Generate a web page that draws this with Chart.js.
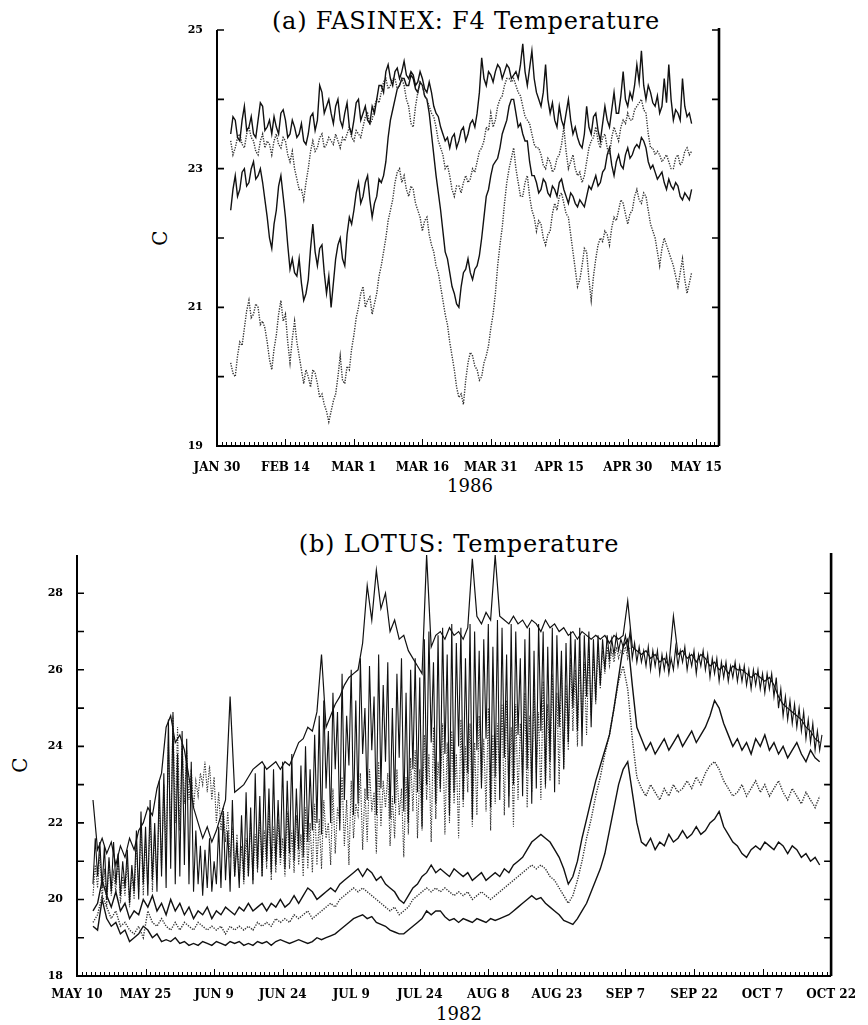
<!DOCTYPE html>
<html>
<head>
<meta charset="utf-8">
<title>FASINEX / LOTUS temperature</title>
<script src="https://cdn.jsdelivr.net/npm/chart.js@4.4.0/dist/chart.umd.min.js"></script>
<style>
  html, body { margin: 0; padding: 0; background: #fff; }
  body { width: 868px; height: 1025px; position: relative; overflow: hidden; font-family: "DejaVu Serif", serif; }
  canvas { position: absolute; left: 0; }
  .lbl { position: absolute; color: #000; white-space: nowrap; transform: translate(-50%, -50%); }
  .title { font-size: 24px; letter-spacing: 0.8px; }
  .year { font-size: 18px; }
  .axc { font-size: 20px; transform: translate(-50%, -50%) rotate(-90deg); }
</style>
</head>
<body>
<div class="lbl title" style="left:466px;top:21px">(a) FASINEX: F4 Temperature</div>
<div class="lbl axc" style="left:160px;top:238px">C</div>
<div class="lbl year" style="left:470px;top:485px">1986</div>
<div class="lbl title" style="left:459px;top:544px">(b) LOTUS: Temperature</div>
<div class="lbl axc" style="left:20px;top:765px">C</div>
<div class="lbl year" style="left:459px;top:1013px">1982</div>

<canvas id="chartA" width="868" height="500" style="top:0"></canvas>
<canvas id="chartB" width="868" height="515" style="top:510px"></canvas>

<script>
"use strict";

// ---- (a) FASINEX, days after Jan 30 1986, read every half day ----
var fasinexTickDays = [0, 15, 30, 45, 60, 75, 90, 105];
var fasinexTickLabels = ["JAN 30", "FEB 14", "MAR 1", "MAR 16", "MAR 31", "APR 15", "APR 30", "MAY 15"];
var fasinexYTicks = [19, 21, 23, 25];
var fasinexStartDay = 3;

var f4Top = [23.5, 23.75, 23.7, 23.45, 23.4, 23.7, 23.9, 23.55, 23.6, 23.75, 23.5, 23.45, 23.7, 23.95, 23.9, 23.55,
  23.6, 23.7, 23.5, 23.75, 23.6, 23.5, 23.8, 23.85, 23.7, 23.45, 23.5, 23.7, 23.6, 23.45, 23.5, 23.65, 23.4, 23.35, 23.5, 23.75,
  23.8, 23.55, 23.7, 24.2, 24.1, 23.8, 23.9, 24.0, 23.8, 23.65, 23.9, 24.0, 23.7, 23.6, 23.8, 23.95, 23.6, 23.5, 23.7, 23.95,
  24.0, 23.7, 23.8, 23.9, 23.7, 23.65, 23.9, 23.8, 24.0, 24.2, 24.2, 24.1, 24.4, 24.5, 24.3, 24.2, 24.4, 24.45, 24.3, 24.4,
  24.55, 24.35, 24.3, 24.4, 24.35, 24.2, 24.25, 24.4, 24.3, 24.15, 24.1, 24.25, 24.1, 23.9, 23.8, 23.75, 23.6, 23.5, 23.4, 23.45,
  23.3, 23.45, 23.5, 23.3, 23.4, 23.55, 23.6, 23.4, 23.5, 23.65, 23.7, 23.6, 23.8, 24.1, 24.6, 24.3, 24.2, 24.4, 24.35, 24.25,
  24.4, 24.5, 24.45, 24.3, 24.4, 24.5, 24.45, 24.3, 24.35, 24.4, 24.3, 24.5, 24.8, 24.4, 24.2, 24.45, 24.7, 24.3, 24.1, 24.0,
  23.9, 24.1, 24.5, 24.0, 23.8, 23.95, 23.7, 23.6, 23.9, 23.7, 23.6, 23.8, 24.0, 23.7, 23.5, 23.6, 23.45, 23.35, 23.3, 23.5,
  23.9, 23.6, 23.5, 23.75, 23.8, 23.55, 23.4, 23.65, 23.9, 23.7, 23.6, 23.85, 24.1, 23.8, 23.8, 24.05, 24.4, 24.0, 23.9, 24.1,
  24.0, 24.2, 24.5, 24.25, 24.7, 24.2, 24.0, 24.2, 24.1, 23.95, 23.9, 24.05, 23.8, 23.9, 24.3, 23.95, 24.5, 24.0, 23.7, 23.85,
  23.8, 23.7, 24.3, 23.9, 23.75, 23.8, 23.65];

var f4Second = [23.4, 23.2, 23.3, 23.45, 23.5, 23.35, 23.3, 23.5, 23.6, 23.45, 23.4, 23.25, 23.2, 23.4, 23.5, 23.3,
  23.4, 23.35, 23.2, 23.4, 23.5, 23.35, 23.3, 23.45, 23.4, 23.2, 23.1, 23.25, 23.0, 22.85, 22.7, 22.7, 22.55, 22.8, 23.0, 23.25,
  23.4, 23.25, 23.3, 23.45, 23.5, 23.3, 23.35, 23.45, 23.4, 23.35, 23.5, 23.4, 23.3, 23.45, 23.4, 23.5, 23.6, 23.45, 23.4, 23.55,
  23.5, 23.45, 23.6, 23.75, 23.8, 23.65, 23.7, 23.9, 24.0, 23.95, 24.1, 24.25, 24.3, 24.15, 24.2, 24.3, 24.3, 24.15, 24.2, 24.3,
  24.2, 24.0, 23.9, 23.65, 23.6, 23.9, 24.1, 24.25, 24.2, 24.05, 24.0, 23.9, 23.8, 23.75, 23.6, 23.4, 23.3, 23.2, 23.0, 23.05,
  22.9, 22.7, 22.6, 22.75, 22.75, 22.65, 22.8, 22.9, 22.8, 22.85, 23.0, 22.95, 23.1, 23.25, 23.3, 23.4, 23.6, 23.55, 23.8, 23.6,
  23.7, 23.9, 24.0, 24.05, 24.2, 24.3, 24.3, 24.25, 24.3, 24.2, 24.1, 24.05, 23.9, 23.75, 23.7, 23.65, 23.5, 23.35, 23.3, 23.3,
  23.2, 23.05, 23.0, 23.15, 23.1, 22.95, 23.0, 23.15, 23.2, 23.35, 23.6, 23.25, 23.0, 23.1, 23.2, 23.0, 22.9, 22.95, 22.8, 22.9,
  23.1, 23.3, 23.4, 23.45, 23.6, 23.4, 23.3, 23.45, 23.5, 23.3, 23.2, 23.45, 23.6, 23.5, 23.4, 23.6, 23.7, 23.65, 23.8, 23.7,
  23.7, 23.85, 23.9, 23.95, 24.0, 23.85, 23.8, 23.5, 23.3, 23.3, 23.2, 23.25, 23.2, 23.1, 23.15, 23.2, 23.1, 23.0, 23.0, 23.15,
  23.2, 23.05, 23.1, 23.25, 23.3, 23.2, 23.25];

var f4Third = [22.4, 22.7, 22.9, 22.6, 22.7, 22.95, 23.0, 22.75, 22.8, 23.0, 23.1, 22.85, 22.9, 23.0, 22.8, 22.55,
  22.3, 22.0, 21.85, 22.2, 22.4, 22.75, 22.9, 22.6, 22.3, 21.9, 21.55, 21.7, 21.5, 21.45, 21.7, 21.35, 21.1, 21.2, 21.4, 21.85,
  22.2, 21.8, 21.6, 21.85, 21.9, 21.5, 21.2, 21.45, 21.0, 21.35, 21.7, 21.9, 22.0, 21.7, 21.6, 22.05, 22.3, 22.2, 22.4, 22.65,
  22.8, 22.5, 22.6, 22.8, 22.9, 22.55, 22.3, 22.5, 22.6, 22.85, 22.8, 22.9, 23.1, 23.45, 23.7, 23.85, 24.0, 24.15, 24.2, 24.3,
  24.3, 24.2, 24.2, 24.35, 24.3, 24.15, 24.1, 24.25, 24.2, 24.05, 24.0, 23.8, 23.5, 23.2, 22.9, 22.65, 22.4, 22.1, 21.8, 21.7,
  21.5, 21.3, 21.2, 21.05, 21.0, 21.3, 21.5, 21.55, 21.7, 21.5, 21.4, 21.55, 21.6, 21.75, 22.0, 22.3, 22.6, 22.7, 22.9, 23.05,
  23.1, 23.15, 23.3, 23.5, 23.6, 23.7, 23.9, 24.0, 24.0, 23.8, 23.6, 23.65, 23.5, 23.4, 23.4, 23.1, 22.9, 22.9, 22.8, 22.65,
  22.7, 22.85, 22.8, 22.65, 22.6, 22.75, 22.7, 22.6, 22.8, 22.85, 22.7, 22.6, 22.5, 22.65, 22.6, 22.5, 22.45, 22.55, 22.5, 22.45,
  22.6, 22.75, 22.7, 22.8, 22.9, 22.75, 22.8, 22.95, 23.0, 23.2, 23.3, 23.05, 22.9, 23.1, 23.2, 23.05, 23.0, 23.2, 23.3, 23.15,
  23.2, 23.3, 23.35, 23.3, 23.45, 23.4, 23.3, 23.1, 23.0, 23.05, 22.95, 22.85, 22.9, 22.95, 22.8, 22.7, 22.85, 22.75, 22.7, 22.8,
  22.75, 22.6, 22.55, 22.65, 22.6, 22.55, 22.7];

var f4Bottom = [20.2, 20.05, 20.0, 20.3, 20.5, 20.45, 20.7, 20.95, 21.1, 20.85, 20.9, 21.05, 21.0, 20.75, 20.8, 20.7,
  20.5, 20.25, 20.1, 20.4, 20.6, 20.9, 21.1, 20.8, 20.9, 20.5, 20.2, 20.55, 20.8, 20.5, 20.3, 20.1, 19.9, 20.1, 20.0, 19.85,
  20.1, 20.05, 19.9, 19.7, 19.75, 19.6, 19.5, 19.35, 19.5, 19.65, 19.75, 20.0, 20.3, 19.95, 19.9, 20.15, 20.1, 20.4, 20.6, 20.85,
  21.0, 21.2, 21.3, 21.0, 21.1, 21.15, 20.9, 21.05, 21.2, 21.45, 21.6, 21.8, 22.0, 22.25, 22.4, 22.55, 22.8, 22.95, 23.0, 22.8,
  22.9, 22.7, 22.6, 22.75, 22.7, 22.5, 22.4, 22.3, 22.1, 22.25, 22.3, 22.05, 21.9, 21.8, 21.6, 21.5, 21.3, 21.1, 20.9, 20.75,
  20.5, 20.3, 20.1, 19.85, 19.7, 19.75, 19.6, 19.95, 20.2, 20.35, 20.3, 20.15, 20.1, 19.95, 20.0, 20.2, 20.3, 20.45, 20.7, 20.9,
  21.2, 21.6, 21.9, 22.15, 22.5, 22.8, 23.0, 23.15, 23.3, 23.0, 22.8, 22.6, 22.6, 22.8, 22.9, 22.6, 22.4, 22.3, 22.1, 22.25,
  22.2, 22.0, 21.9, 22.05, 22.1, 22.35, 22.5, 22.4, 22.6, 22.65, 22.5, 22.35, 22.3, 22.05, 21.8, 21.55, 21.3, 21.4, 21.6, 21.85,
  21.8, 21.4, 21.1, 21.45, 21.7, 21.9, 22.0, 21.95, 22.1, 22.05, 21.9, 22.15, 22.3, 22.25, 22.4, 22.55, 22.5, 22.35, 22.2, 22.35,
  22.4, 22.6, 22.7, 22.55, 22.5, 22.65, 22.6, 22.4, 22.2, 22.1, 22.0, 21.8, 21.6, 21.85, 22.0, 21.9, 21.8, 21.7, 21.6, 21.45,
  21.3, 21.5, 21.7, 21.4, 21.2, 21.35, 21.5];

// ---- (b) LOTUS, days after May 10 1982 ----
var lotusTickDays = [0, 15, 30, 45, 60, 75, 90, 105, 120, 135, 150, 165];
var lotusTickLabels = ["MAY 10", "MAY 25", "JUN 9", "JUN 24", "JUL 9", "JUL 24", "AUG 8", "AUG 23", "SEP 7", "SEP 22", "OCT 7", "OCT 22"];
var lotusYTicks = [18, 20, 22, 24, 26, 28];
var lotusStartDay = 3.5;

var lotusSurface = [22.6, 21.3, 21.6, 21.2, 21.5, 20.9, 21.4, 21.1, 21.6, 21.3,
  21.8, 22.0, 22.4, 22.2, 22.9, 23.3, 24.5, 24.8, 24.1, 24.3,
  23.9, 23.2, 22.4, 22.0, 21.6, 21.9, 21.5, 21.8, 22.2, 22.6,
  25.3, 22.8, 22.9, 23.0, 23.2, 23.4, 23.5, 23.6, 23.4, 23.5,
  23.6, 23.4, 23.6, 23.5, 23.8, 24.1, 24.2, 24.5, 24.4, 24.9,
  26.4, 24.5, 24.8, 25.1, 25.3, 25.6, 25.8, 25.9, 26.0, 26.7,
  28.2, 27.3, 28.6, 27.6, 28.0, 27.0, 27.3, 26.8, 26.9, 26.5,
  26.3, 26.1, 25.9, 29.0, 26.6, 26.9, 27.0, 26.8, 27.1, 26.9,
  27.0, 26.8, 27.1, 28.9, 27.4, 27.2, 27.5, 27.3, 29.0, 27.4,
  27.3, 27.2, 27.4, 27.2, 27.3, 27.1, 27.3, 27.2, 27.0, 27.3,
  27.1, 27.2, 27.0, 27.1, 26.9, 27.0, 26.8, 27.0, 26.9, 26.8,
  26.9, 26.8, 26.9, 26.7, 26.9, 26.8, 26.9, 27.8, 26.6, 26.5,
  26.4, 26.5, 26.3, 26.4, 26.2, 26.3, 26.1, 27.4, 26.4, 26.5,
  26.3, 26.4, 26.2, 26.4, 26.3, 26.1, 26.2, 26.0, 26.1, 25.9,
  26.1, 26.0, 26.0, 25.9, 25.8, 25.9, 25.8, 25.7, 25.8, 25.6,
  25.3, 25.1, 25.0, 24.9, 24.8, 24.7, 24.5, 24.4, 24.2, 24.1];

// mixed-layer sensors: nightly low and afternoon high of each day
var bandSolidLow = [20.4, 20.6, 20.3, 20.0, 20.2, 20.4, 20.1, 20.3, 19.9, 20.2,
  20.0, 20.4, 20.1, 20.5, 20.2, 20.6, 20.3, 20.8, 20.4, 20.6,
  20.9, 20.4, 20.2, 20.4, 20.1, 20.3, 20.2, 20.4, 20.3, 20.5,
  20.2, 20.6, 20.3, 20.5, 20.6, 20.4, 20.8, 20.6, 21.0, 20.7,
  20.9, 21.1, 20.8, 21.2, 21.0, 21.3, 21.1, 21.5, 21.8, 22.0,
  21.7, 22.9, 22.0, 23.4, 21.8, 22.6, 23.5, 22.2, 22.5, 23.8,
  22.6, 23.9, 22.2, 22.9, 23.6, 22.1, 22.5, 23.7, 22.3, 22.0,
  23.4, 22.8, 21.9, 23.0, 24.1, 22.5, 22.9, 23.8, 22.2, 22.8,
  24.0, 22.6, 23.3, 22.1, 23.9, 22.9, 24.2, 22.4, 23.2, 22.6,
  23.7, 22.4, 23.0, 24.3, 22.7, 23.4, 22.5, 22.9, 24.4, 23.0,
  23.6, 22.8, 24.5, 23.4, 24.1, 25.0, 24.4, 24.0, 25.3, 24.5,
  25.2, 25.6, 26.0, 26.3, 26.4, 26.5, 26.6, 26.5, 26.3, 26.2,
  26.2, 26.1, 26.0, 26.1, 25.9, 26.0, 25.9, 26.0, 26.1, 26.2,
  26.0, 26.1, 25.9, 26.1, 26.0, 25.8, 25.9, 25.7, 25.8, 25.7,
  25.8, 25.7, 25.7, 25.6, 25.5, 25.6, 25.5, 25.4, 25.5, 25.3,
  25.0, 24.8, 24.7, 24.6, 24.5, 24.4, 24.2, 24.1, 23.9, 23.9];
var bandSolidHigh = [21.6, 21.5, 21.4, 21.1, 21.5, 21.2, 21.0, 21.3, 20.9, 21.8,
  22.3, 21.9, 22.6, 22.0, 23.1, 23.3, 24.7, 24.9, 23.8, 24.4,
  24.2, 23.6, 21.8, 21.4, 21.3, 21.6, 21.0, 21.9, 22.3, 21.8,
  22.6, 21.5, 22.2, 22.8, 22.4, 23.3, 22.7, 23.5, 22.9, 23.4,
  22.6, 23.6, 23.1, 23.8, 22.9, 23.5, 24.0, 23.4, 24.3, 24.8,
  25.2, 24.4, 25.4, 24.9, 25.9, 24.8, 26.0, 25.2, 26.3, 25.0,
  26.1, 25.3, 26.4, 25.6, 26.2, 25.0, 25.9, 26.3, 25.4, 26.0,
  26.3, 25.8, 26.8, 27.0, 26.2, 26.9, 27.1, 26.4, 27.2, 26.7,
  27.1, 26.3, 27.2, 27.0, 26.5, 26.8, 27.2, 26.6, 27.3, 27.1,
  26.4, 27.2, 27.0, 26.3, 26.8, 27.1, 26.5, 27.2, 27.0, 26.6,
  27.1, 26.9, 26.5, 26.7, 27.0, 26.8, 27.1, 26.9, 27.0, 26.8,
  26.9, 26.8, 26.9, 26.8, 26.9, 26.8, 26.9, 27.0, 26.7, 26.6,
  26.5, 26.6, 26.5, 26.5, 26.4, 26.4, 26.3, 26.6, 26.5, 26.6,
  26.4, 26.5, 26.4, 26.5, 26.4, 26.3, 26.3, 26.2, 26.2, 26.1,
  26.2, 26.1, 26.1, 26.0, 26.0, 26.0, 25.9, 25.9, 25.9, 25.8,
  25.5, 25.3, 25.2, 25.1, 25.0, 24.9, 24.7, 24.6, 24.4, 24.3];
var bandDottedLow = [20.1, 20.3, 20.0, 19.8, 20.1, 20.2, 19.9, 20.1, 19.8, 20.0,
  20.2, 20.1, 20.4, 20.2, 20.5, 20.8, 21.2, 21.6, 22.0, 21.8,
  22.5, 22.6, 22.4, 22.7, 23.0, 22.8, 22.6, 22.0, 21.8, 21.5,
  21.1, 20.6, 20.5, 20.4, 20.6, 20.5, 20.7, 20.6, 20.8, 20.5,
  20.7, 20.9, 20.6, 20.8, 20.7, 20.9, 20.6, 20.8, 20.7, 20.9,
  20.8, 21.6, 20.9, 21.2, 22.0, 21.4, 20.9, 21.6, 22.2, 21.3,
  21.5, 22.3, 21.2, 21.9, 22.4, 21.4, 21.6, 22.2, 21.1, 21.7,
  22.3, 21.6, 21.8, 22.6, 21.5, 22.1, 22.8, 21.7, 22.0, 22.5,
  21.6, 22.4, 22.8, 21.9, 22.2, 23.0, 22.3, 21.8, 22.5, 23.1,
  22.2, 22.7, 21.9, 22.6, 23.2, 22.4, 22.8, 23.3, 22.6, 22.9,
  23.1, 23.6, 23.0, 23.4, 23.9, 24.4, 24.0, 24.5, 24.3, 24.8,
  25.1, 25.5, 25.9, 26.1, 26.2, 26.3, 26.4, 26.3];
var bandDottedHigh = [20.9, 21.2, 20.8, 21.0, 20.7, 21.1, 20.6, 21.0, 20.7, 21.4,
  21.9, 21.5, 22.2, 21.7, 22.6, 23.0, 24.1, 24.8, 24.5, 24.1,
  23.9, 23.4, 23.1, 23.3, 23.6, 23.5, 23.2, 22.8, 22.4, 22.3,
  21.9, 21.7, 21.4, 21.6, 22.0, 21.7, 22.2, 21.8, 22.4, 21.9,
  22.1, 21.6, 22.3, 21.8, 22.2, 21.7, 22.4, 22.0, 22.5, 22.1,
  22.6, 22.0, 22.9, 22.4, 23.2, 22.6, 23.1, 22.5, 23.3, 22.9,
  23.4, 22.8, 23.6, 23.1, 23.3, 22.7, 23.4, 22.9, 23.2, 23.7,
  23.9, 23.4, 24.3, 23.8, 24.5, 23.6, 24.6, 24.1, 24.4, 23.8,
  24.7, 24.0, 24.6, 24.1, 24.8, 24.2, 25.0, 24.3, 24.6, 25.1,
  25.2, 24.5, 25.1, 24.6, 25.4, 24.8, 25.5, 24.9, 25.7, 25.1,
  25.9, 25.4, 26.1, 25.6, 26.3, 26.0, 26.5, 26.2, 26.6, 26.4,
  26.6, 26.5, 26.6, 26.5, 26.6, 26.5, 26.6, 26.6];

var lotusUpper = [19.7, 19.9, 20.5, 20.1, 19.8, 20.2, 19.7, 19.9, 19.5, 19.7,
  19.6, 20.0, 19.8, 20.1, 19.7, 19.9, 19.6, 20.0, 19.7, 19.9,
  19.6, 19.8, 19.5, 19.7, 19.6, 19.8, 19.5, 19.7, 19.6, 19.8,
  19.7, 19.6, 19.8, 19.7, 19.9, 19.7, 19.8, 19.9, 19.7, 19.9,
  19.8, 20.0, 19.8, 19.9, 20.1, 19.9, 20.1, 20.3, 20.2, 20.0,
  20.1, 20.2, 20.3, 20.2, 20.4, 20.5, 20.6, 20.7, 20.8, 20.6,
  20.8, 20.7, 20.5, 20.6, 20.4, 20.3, 20.2, 20.0, 19.9, 20.1,
  20.3, 20.4, 20.6, 20.7, 20.9, 20.7, 20.8, 20.7, 20.6, 20.8,
  20.7, 20.6, 20.7, 20.5, 20.6, 20.7, 20.5, 20.6, 20.7, 20.6,
  20.8, 20.7, 20.9, 21.0, 21.1, 21.3, 21.5, 21.6, 21.7, 21.6,
  21.5, 21.3, 21.1, 20.8, 20.4, 20.6, 21.0, 21.6, 22.1, 22.6,
  23.1, 23.5, 23.9, 24.3, 25.0, 25.8, 26.6, 26.8, 25.6, 24.5,
  24.2, 23.9, 24.1, 23.8, 24.0, 24.2, 23.9, 24.1, 24.3, 24.0,
  24.2, 24.4, 24.1, 24.3, 24.5, 24.8, 25.2, 25.0, 24.6, 24.3,
  24.0, 24.2, 23.9, 24.1, 23.8, 24.2, 24.0, 24.3, 23.9, 24.1,
  23.8, 24.0, 23.7, 23.9, 24.1, 23.8, 23.6, 23.9, 23.7, 23.6];

var lotusMiddle = [19.4, 19.6, 20.1, 19.8, 19.5, 19.7, 19.3, 19.4, 19.2, 19.1,
  19.3, 19.0, 19.7, 19.4, 19.3, 19.5, 19.3, 19.2, 19.4, 19.2,
  19.4, 19.3, 19.2, 19.4, 19.3, 19.2, 19.3, 19.2, 19.3, 19.1,
  19.3, 19.2, 19.3, 19.2, 19.3, 19.2, 19.4, 19.3, 19.4, 19.3,
  19.5, 19.4, 19.5, 19.4, 19.6, 19.5, 19.6, 19.7, 19.5, 19.6,
  19.7, 19.8, 19.9, 19.8, 20.0, 20.1, 20.2, 20.3, 20.2, 20.3,
  20.2, 20.1, 20.0, 19.9, 19.8, 19.7, 19.8, 19.6, 19.7, 19.8,
  20.0, 20.1, 20.2, 20.3, 20.2, 20.3, 20.2, 20.3, 20.2, 20.1,
  20.2, 20.1, 20.2, 20.0, 20.1, 20.2, 20.1, 20.0, 20.1, 20.2,
  20.3, 20.4, 20.5, 20.6, 20.7, 20.8, 20.9, 20.8, 20.9, 20.8,
  20.6, 20.5, 20.3, 20.1, 19.9, 20.1, 20.5, 21.0, 21.6, 22.1,
  22.7, 23.2, 23.8, 24.3, 25.0, 25.7, 26.1, 25.5, 24.2, 23.2,
  22.9, 22.7, 23.0, 22.8, 22.6, 22.9, 22.7, 23.0, 22.8, 22.9,
  23.1, 22.9, 23.2, 23.0, 23.3, 23.5, 23.6, 23.4, 23.1, 22.9,
  22.7, 22.8, 23.0, 22.7, 22.9, 23.1, 22.8, 23.0, 22.7, 22.9,
  23.1, 22.8, 22.6, 22.9, 22.7, 22.5, 22.8, 22.6, 22.4, 22.7];

var lotusDeep = [19.3, 19.2, 20.0, 19.5, 19.3, 19.4, 19.1, 19.2, 18.9, 19.0,
  19.1, 19.3, 19.2, 19.0, 19.1, 18.9, 18.95, 18.9, 19.0, 18.85,
  18.9, 18.8, 18.85, 18.8, 18.9, 18.85, 18.8, 18.9, 18.85, 18.8,
  18.9, 18.85, 18.9, 18.8, 18.85, 18.8, 18.9, 18.85, 18.9, 18.8,
  18.9, 18.95, 18.9, 18.85, 18.9, 18.95, 18.9, 18.85, 18.9, 19.0,
  18.95, 19.0, 19.05, 19.1, 19.2, 19.3, 19.4, 19.5, 19.55, 19.6,
  19.5, 19.55, 19.4, 19.35, 19.3, 19.2, 19.15, 19.1, 19.1, 19.2,
  19.3, 19.4, 19.5, 19.7, 19.6, 19.7, 19.7, 19.55, 19.45, 19.5,
  19.4, 19.5, 19.45, 19.4, 19.5, 19.45, 19.4, 19.5, 19.45, 19.5,
  19.55, 19.6, 19.7, 19.8, 19.9, 20.0, 20.1, 20.0, 20.05, 19.9,
  19.8, 19.7, 19.6, 19.45, 19.4, 19.35, 19.5, 19.7, 19.9, 20.2,
  20.5, 20.8, 21.2, 21.8, 22.4, 23.0, 23.4, 23.6, 22.8, 22.0,
  21.5, 21.4, 21.6, 21.3, 21.5, 21.4, 21.7, 21.5, 21.6, 21.8,
  21.6, 21.7, 21.9, 21.7, 21.8, 22.0, 22.1, 22.3, 21.9, 21.7,
  21.5, 21.4, 21.2, 21.1, 21.3, 21.4, 21.3, 21.5, 21.4, 21.3,
  21.5, 21.4, 21.2, 21.4, 21.3, 21.1, 21.2, 21.0, 21.1, 20.9];


// helpers
function series(start, step, values) {
    return values.map(function (v, i) { return {x: start + i * step, y: v}; });
}
function diurnal(start, lows, highs) {
    var pts = [];
    lows.forEach(function (lo, i) {
        pts.push({x: start + i, y: lo});
        pts.push({x: start + i + 0.5, y: highs[i]});
    });
    return pts;
}
function solid(points, w) {
    return {data: points, borderColor: "#111", borderWidth: w, pointRadius: 0, tension: 0, fill: false};
}
function dotted(points, w) {
    return {data: points, borderColor: "#333", borderWidth: w, borderDash: [1.3, 1.3], pointRadius: 0, tension: 0, fill: false};
}

// axis frame: lines and inward ticks, like the old plotting package
var framePlugin = {
    id: "frame",
    afterDraw: function (chart, args, opts) {
        var ctx = chart.ctx, a = chart.chartArea, x = chart.scales.x, y = chart.scales.y;
        ctx.save();
        ctx.strokeStyle = "#000";
        ctx.lineWidth = 2;
        ctx.beginPath();
        ctx.moveTo(a.left, a.top);
        ctx.lineTo(a.left, a.bottom);
        ctx.lineTo(a.right, a.bottom);
        ctx.stroke();
        ctx.lineWidth = 2.6;
        ctx.beginPath();
        ctx.moveTo(a.right, a.top - 2);
        ctx.lineTo(a.right, a.bottom);
        ctx.stroke();

        ctx.lineWidth = 1.6;
        ctx.beginPath();
        for (var v = opts.yFrom; v <= opts.yTo; v++) {
            var py = y.getPixelForValue(v);
            ctx.moveTo(a.left, py); ctx.lineTo(a.left + 7, py);
            ctx.moveTo(a.right, py); ctx.lineTo(a.right - 7, py);
        }
        ctx.stroke();

        ctx.lineWidth = 1;
        ctx.beginPath();
        for (var d = x.min; d <= x.max; d++) {
            var px = Math.round(x.getPixelForValue(d)) + 0.5;
            var len = opts.majorDays.indexOf(d) >= 0 ? 7 : 4;
            ctx.moveTo(px, a.bottom);
            ctx.lineTo(px, a.bottom - len);
        }
        ctx.stroke();
        ctx.restore();
    }
};

function makeChart(id, cfg) {
    var ctx = document.getElementById(id).getContext("2d");
    return new Chart(ctx, {
        type: "line",
        data: {datasets: cfg.datasets},
        options: {
            responsive: false,
            animation: false,
            events: [],
            layout: {autoPadding: false, padding: cfg.padding},
            plugins: {
                legend: {display: false},
                tooltip: {enabled: false},
                frame: cfg.frame
            },
            scales: {
                x: {
                    type: "linear",
                    min: cfg.xMin,
                    max: cfg.xMax,
                    grid: {display: false, drawTicks: false},
                    border: {display: false},
                    afterBuildTicks: function (s) {
                        s.ticks = cfg.tickDays.map(function (v) { return {value: v}; });
                    },
                    afterFit: function (s) { s.height = 30; },
                    ticks: {
                        autoSkip: false,
                        maxRotation: 0,
                        padding: cfg.xPad,
                        color: "#000",
                        font: {family: "DejaVu Serif", weight: "bold", size: 12},
                        callback: function (value) {
                            var i = cfg.tickDays.indexOf(value);
                            return i >= 0 ? cfg.tickLabels[i] : "";
                        }
                    }
                },
                y: {
                    min: cfg.yMin,
                    max: cfg.yMax,
                    grid: {display: false, drawTicks: false},
                    border: {display: false},
                    afterBuildTicks: function (s) {
                        s.ticks = cfg.yTicks.map(function (v) { return {value: v}; });
                    },
                    afterFit: function (s) { s.width = 40; },
                    ticks: {
                        padding: 14,
                        color: "#000",
                        font: {family: "DejaVu Serif", weight: "bold", size: 11}
                    }
                }
            }
        },
        plugins: [framePlugin]
    });
}

// (a) FASINEX
makeChart("chartA", {
    datasets: [
        solid(series(fasinexStartDay, 0.5, f4Top), 1.4),
        dotted(series(fasinexStartDay, 0.5, f4Second), 1.4),
        solid(series(fasinexStartDay, 0.5, f4Third), 1.4),
        dotted(series(fasinexStartDay, 0.5, f4Bottom), 1.4)
    ],
    padding: {left: 177, right: 149, top: 30, bottom: 24},
    xMin: 0, xMax: 110, xPad: 15,
    tickDays: fasinexTickDays, tickLabels: fasinexTickLabels,
    yMin: 19, yMax: 25, yTicks: fasinexYTicks,
    frame: {yFrom: 20, yTo: 25, majorDays: fasinexTickDays}
});

// (b) LOTUS
makeChart("chartB", {
    datasets: [
        solid(series(lotusStartDay, 1, lotusSurface), 1.2),
        solid(diurnal(lotusStartDay, bandSolidLow, bandSolidHigh), 1.1),
        dotted(diurnal(lotusStartDay, bandDottedLow, bandDottedHigh), 1.1),
        solid(series(lotusStartDay, 1, lotusUpper), 1.4),
        dotted(series(lotusStartDay, 1, lotusMiddle), 1.4),
        solid(series(lotusStartDay, 1, lotusDeep), 1.4)
    ],
    padding: {left: 37, right: 26, top: 45, bottom: 19},
    xMin: 0, xMax: 165, xPad: 12,
    tickDays: lotusTickDays, tickLabels: lotusTickLabels,
    yMin: 18, yMax: 29, yTicks: lotusYTicks,
    frame: {yFrom: 19, yTo: 28, majorDays: lotusTickDays}
});
</script>
</body>
</html>
